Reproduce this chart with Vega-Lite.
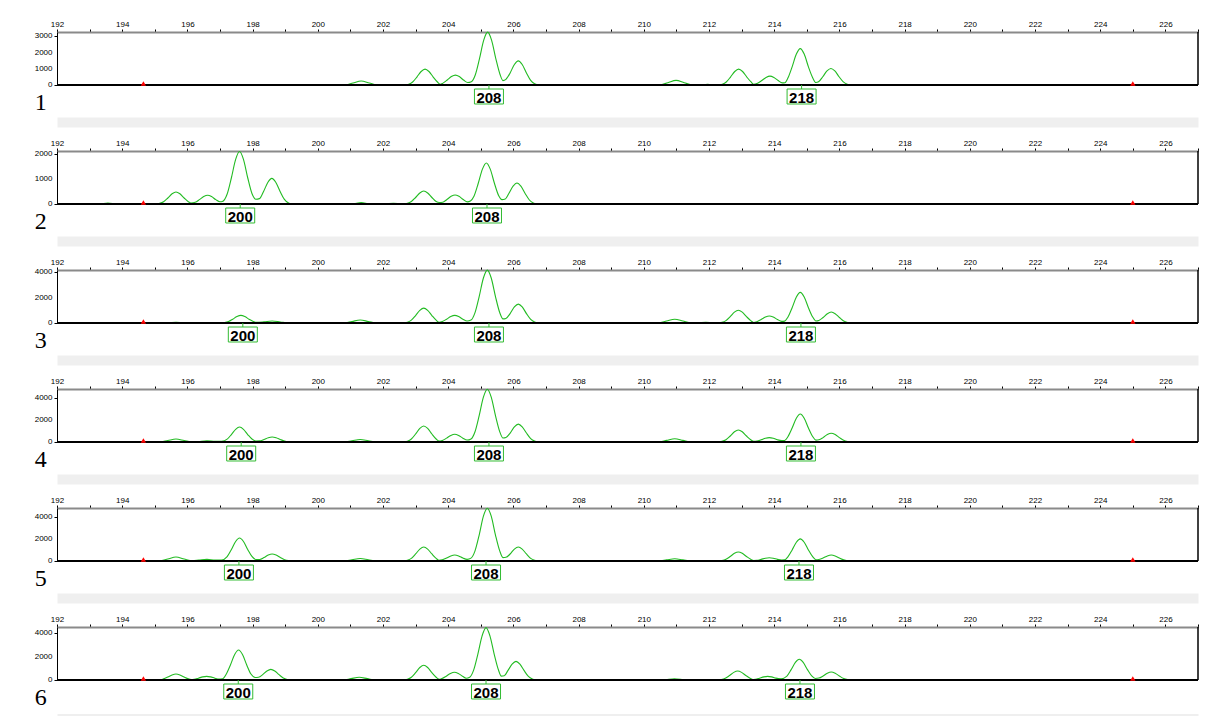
{
"$schema": "https://vega.github.io/schema/vega-lite/v6.json",
"background": "white",
"padding": {"left": 34, "top": 20, "right": 5, "bottom": 0},
"spacing": 66,
"bounds": "flush",
"config": {
 "view": {"stroke": null},
 "axis": {"labelFont": "Liberation Sans", "labelFontSize": 8, "labelColor": "#000", "tickColor": "#000", "tickSize": 3, "labelPadding": 1, "domainColor": "#000", "grid": false, "labelOverlap": false, "labelFlush": false, "labelBound": false},
 "axisTop": {"domainColor": "#8a8a8a", "domainWidth": 2}
},
"datasets": {
 "panels": [{"p":1,"n":"1"},{"p":2,"n":"2"},{"p":3,"n":"3"},{"p":4,"n":"4"},{"p":5,"n":"5"},{"p":6,"n":"6"}],
 "ylabels": [{"p":1,"v":0},{"p":1,"v":1000},{"p":1,"v":2000},{"p":1,"v":3000},{"p":2,"v":0},{"p":2,"v":1000},{"p":2,"v":2000},{"p":3,"v":0},{"p":3,"v":2000},{"p":3,"v":4000},{"p":4,"v":0},{"p":4,"v":2000},{"p":4,"v":4000},{"p":5,"v":0},{"p":5,"v":2000},{"p":5,"v":4000},{"p":6,"v":0},{"p":6,"v":2000},{"p":6,"v":4000}],
 "ladder": [{"p":1,"x":194.65},{"p":1,"x":225.0},{"p":2,"x":194.65},{"p":2,"x":225.0},{"p":3,"x":194.65},{"p":3,"x":225.0},{"p":4,"x":194.65},{"p":4,"x":225.0},{"p":5,"x":194.65},{"p":5,"x":225.0},{"p":6,"x":194.65},{"p":6,"x":225.0}],
 "alleles": [
  {"p":1,"x":205.25,"label":"208"},{"p":1,"x":214.84,"label":"218"},
  {"p":2,"x":197.62,"label":"200"},{"p":2,"x":205.19,"label":"208"},
  {"p":3,"x":197.7,"label":"200"},{"p":3,"x":205.25,"label":"208"},{"p":3,"x":214.82,"label":"218"},
  {"p":4,"x":197.65,"label":"200"},{"p":4,"x":205.25,"label":"208"},{"p":4,"x":214.82,"label":"218"},
  {"p":5,"x":197.58,"label":"200"},{"p":5,"x":205.16,"label":"208"},{"p":5,"x":214.76,"label":"218"},
  {"p":6,"x":197.56,"label":"200"},{"p":6,"x":205.16,"label":"208"},{"p":6,"x":214.79,"label":"218"}
 ],
 "trace": [
  {"p":1,"x":192,"y":0},{"p":1,"x":200.83,"y":0},{"p":1,"x":201.08,"y":125},{"p":1,"x":201.33,"y":250},{"p":1,"x":201.58,"y":125},{"p":1,"x":201.83,"y":0},
  {"p":1,"x":202.1,"y":0},{"p":1,"x":202.35,"y":30},{"p":1,"x":202.6,"y":0},
  {"p":1,"x":202.67,"y":0},{"p":1,"x":202.79,"y":49},{"p":1,"x":202.91,"y":186},{"p":1,"x":203.04,"y":490},{"p":1,"x":203.17,"y":833},{"p":1,"x":203.29,"y":980},{"p":1,"x":203.41,"y":833},{"p":1,"x":203.54,"y":490},{"p":1,"x":203.67,"y":186},{"p":1,"x":203.76,"y":40},
  {"p":1,"x":203.84,"y":116},{"p":1,"x":203.97,"y":305},{"p":1,"x":204.1,"y":519},{"p":1,"x":204.22,"y":610},{"p":1,"x":204.34,"y":519},{"p":1,"x":204.47,"y":305},{"p":1,"x":204.6,"y":150},{"p":1,"x":204.71,"y":200},
  {"p":1,"x":204.83,"y":620},{"p":1,"x":204.96,"y":1630},{"p":1,"x":205.09,"y":2770},{"p":1,"x":205.21,"y":3260},{"p":1,"x":205.33,"y":2770},{"p":1,"x":205.46,"y":1630},{"p":1,"x":205.59,"y":650},{"p":1,"x":205.68,"y":270},
  {"p":1,"x":205.77,"y":350},{"p":1,"x":205.9,"y":745},{"p":1,"x":206.03,"y":1267},{"p":1,"x":206.15,"y":1490},{"p":1,"x":206.27,"y":1267},{"p":1,"x":206.4,"y":745},{"p":1,"x":206.53,"y":283},{"p":1,"x":206.65,"y":75},{"p":1,"x":206.77,"y":0},
  {"p":1,"x":208.85,"y":0},{"p":1,"x":209.1,"y":20},{"p":1,"x":209.35,"y":0},
  {"p":1,"x":210.49,"y":0},{"p":1,"x":210.74,"y":143},{"p":1,"x":210.99,"y":285},{"p":1,"x":211.24,"y":143},{"p":1,"x":211.49,"y":0},
  {"p":1,"x":211.7,"y":0},{"p":1,"x":211.96,"y":40},{"p":1,"x":212.2,"y":0},
  {"p":1,"x":212.29,"y":0},{"p":1,"x":212.41,"y":49},{"p":1,"x":212.53,"y":186},{"p":1,"x":212.66,"y":490},{"p":1,"x":212.79,"y":833},{"p":1,"x":212.91,"y":980},{"p":1,"x":213.03,"y":833},{"p":1,"x":213.16,"y":490},{"p":1,"x":213.29,"y":186},{"p":1,"x":213.37,"y":40},
  {"p":1,"x":213.49,"y":105},{"p":1,"x":213.62,"y":275},{"p":1,"x":213.75,"y":468},{"p":1,"x":213.87,"y":550},{"p":1,"x":213.99,"y":468},{"p":1,"x":214.12,"y":275},{"p":1,"x":214.25,"y":130},{"p":1,"x":214.33,"y":140},
  {"p":1,"x":214.42,"y":427},{"p":1,"x":214.55,"y":1122},{"p":1,"x":214.68,"y":1908},{"p":1,"x":214.8,"y":2245},{"p":1,"x":214.92,"y":1908},{"p":1,"x":215.05,"y":1122},{"p":1,"x":215.18,"y":450},{"p":1,"x":215.28,"y":150},
  {"p":1,"x":215.36,"y":194},{"p":1,"x":215.49,"y":510},{"p":1,"x":215.62,"y":867},{"p":1,"x":215.74,"y":1020},{"p":1,"x":215.86,"y":867},{"p":1,"x":215.99,"y":510},{"p":1,"x":216.12,"y":194},{"p":1,"x":216.24,"y":51},{"p":1,"x":216.36,"y":0},{"p":1,"x":227,"y":0},

  {"p":2,"x":192,"y":0},{"p":2,"x":193.3,"y":0},{"p":2,"x":193.56,"y":40},{"p":2,"x":193.85,"y":0},
  {"p":2,"x":195.03,"y":0},{"p":2,"x":195.15,"y":24},{"p":2,"x":195.27,"y":91},{"p":2,"x":195.4,"y":240},{"p":2,"x":195.53,"y":408},{"p":2,"x":195.65,"y":480},{"p":2,"x":195.77,"y":408},{"p":2,"x":195.9,"y":240},{"p":2,"x":196.03,"y":91},{"p":2,"x":196.11,"y":40},
  {"p":2,"x":196.24,"y":67},{"p":2,"x":196.37,"y":175},{"p":2,"x":196.5,"y":298},{"p":2,"x":196.62,"y":350},{"p":2,"x":196.74,"y":298},{"p":2,"x":196.87,"y":175},{"p":2,"x":197.0,"y":90},{"p":2,"x":197.07,"y":100},
  {"p":2,"x":197.22,"y":400},{"p":2,"x":197.35,"y":1050},{"p":2,"x":197.48,"y":1785},{"p":2,"x":197.6,"y":2100},{"p":2,"x":197.72,"y":1785},{"p":2,"x":197.85,"y":1050},{"p":2,"x":197.98,"y":420},{"p":2,"x":198.1,"y":190},
  {"p":2,"x":198.21,"y":215},{"p":2,"x":198.34,"y":513},{"p":2,"x":198.47,"y":871},{"p":2,"x":198.59,"y":1025},{"p":2,"x":198.71,"y":871},{"p":2,"x":198.84,"y":513},{"p":2,"x":198.97,"y":195},{"p":2,"x":199.09,"y":51},{"p":2,"x":199.21,"y":0},
  {"p":2,"x":201.05,"y":0},{"p":2,"x":201.33,"y":60},{"p":2,"x":201.6,"y":0},{"p":2,"x":202.05,"y":0},{"p":2,"x":202.32,"y":30},{"p":2,"x":202.58,"y":0},
  {"p":2,"x":202.63,"y":0},{"p":2,"x":202.75,"y":26},{"p":2,"x":202.87,"y":99},{"p":2,"x":203.0,"y":260},{"p":2,"x":203.13,"y":442},{"p":2,"x":203.25,"y":520},{"p":2,"x":203.37,"y":442},{"p":2,"x":203.5,"y":260},{"p":2,"x":203.63,"y":99},{"p":2,"x":203.73,"y":60},
  {"p":2,"x":203.83,"y":68},{"p":2,"x":203.96,"y":180},{"p":2,"x":204.09,"y":306},{"p":2,"x":204.21,"y":360},{"p":2,"x":204.33,"y":306},{"p":2,"x":204.46,"y":180},{"p":2,"x":204.59,"y":85},{"p":2,"x":204.68,"y":120},
  {"p":2,"x":204.79,"y":312},{"p":2,"x":204.92,"y":820},{"p":2,"x":205.05,"y":1394},{"p":2,"x":205.17,"y":1640},{"p":2,"x":205.29,"y":1394},{"p":2,"x":205.42,"y":820},{"p":2,"x":205.55,"y":330},{"p":2,"x":205.65,"y":175},
  {"p":2,"x":205.75,"y":200},{"p":2,"x":205.86,"y":420},{"p":2,"x":205.99,"y":714},{"p":2,"x":206.11,"y":840},{"p":2,"x":206.23,"y":714},{"p":2,"x":206.36,"y":420},{"p":2,"x":206.49,"y":160},{"p":2,"x":206.61,"y":42},{"p":2,"x":206.73,"y":0},{"p":2,"x":227,"y":0},

  {"p":3,"x":192,"y":0},{"p":3,"x":195.4,"y":0},{"p":3,"x":195.65,"y":60},{"p":3,"x":195.9,"y":0},
  {"p":3,"x":197.02,"y":0},{"p":3,"x":197.14,"y":30},{"p":3,"x":197.26,"y":114},{"p":3,"x":197.39,"y":300},{"p":3,"x":197.52,"y":510},{"p":3,"x":197.64,"y":600},{"p":3,"x":197.76,"y":510},{"p":3,"x":197.89,"y":300},{"p":3,"x":198.02,"y":114},{"p":3,"x":198.12,"y":50},
  {"p":3,"x":198.35,"y":90},{"p":3,"x":198.6,"y":160},{"p":3,"x":198.85,"y":80},{"p":3,"x":199.1,"y":0},
  {"p":3,"x":200.8,"y":0},{"p":3,"x":201.05,"y":120},{"p":3,"x":201.3,"y":240},{"p":3,"x":201.55,"y":120},{"p":3,"x":201.8,"y":0},
  {"p":3,"x":202.1,"y":0},{"p":3,"x":202.35,"y":40},{"p":3,"x":202.6,"y":0},
  {"p":3,"x":202.75,"y":58},{"p":3,"x":202.87,"y":222},{"p":3,"x":203.0,"y":585},{"p":3,"x":203.13,"y":995},{"p":3,"x":203.25,"y":1170},{"p":3,"x":203.37,"y":995},{"p":3,"x":203.5,"y":585},{"p":3,"x":203.63,"y":222},{"p":3,"x":203.72,"y":60},
  {"p":3,"x":203.82,"y":114},{"p":3,"x":203.95,"y":300},{"p":3,"x":204.08,"y":510},{"p":3,"x":204.2,"y":600},{"p":3,"x":204.32,"y":510},{"p":3,"x":204.45,"y":300},{"p":3,"x":204.58,"y":155},{"p":3,"x":204.7,"y":230},
  {"p":3,"x":204.82,"y":790},{"p":3,"x":204.95,"y":2075},{"p":3,"x":205.08,"y":3530},{"p":3,"x":205.2,"y":4150},{"p":3,"x":205.32,"y":3530},{"p":3,"x":205.45,"y":2075},{"p":3,"x":205.58,"y":820},{"p":3,"x":205.68,"y":320},
  {"p":3,"x":205.77,"y":360},{"p":3,"x":205.9,"y":740},{"p":3,"x":206.03,"y":1258},{"p":3,"x":206.15,"y":1480},{"p":3,"x":206.27,"y":1258},{"p":3,"x":206.4,"y":740},{"p":3,"x":206.53,"y":281},{"p":3,"x":206.65,"y":74},{"p":3,"x":206.77,"y":0},
  {"p":3,"x":206.85,"y":0},{"p":3,"x":207.1,"y":30},{"p":3,"x":207.35,"y":0},
  {"p":3,"x":210.45,"y":0},{"p":3,"x":210.7,"y":150},{"p":3,"x":210.95,"y":300},{"p":3,"x":211.2,"y":150},{"p":3,"x":211.45,"y":0},
  {"p":3,"x":211.65,"y":0},{"p":3,"x":211.9,"y":60},{"p":3,"x":212.15,"y":0},
  {"p":3,"x":212.28,"y":0},{"p":3,"x":212.4,"y":50},{"p":3,"x":212.52,"y":190},{"p":3,"x":212.65,"y":500},{"p":3,"x":212.78,"y":850},{"p":3,"x":212.9,"y":1000},{"p":3,"x":213.02,"y":850},{"p":3,"x":213.15,"y":500},{"p":3,"x":213.28,"y":190},{"p":3,"x":213.37,"y":40},
  {"p":3,"x":213.47,"y":105},{"p":3,"x":213.6,"y":275},{"p":3,"x":213.73,"y":468},{"p":3,"x":213.85,"y":550},{"p":3,"x":213.97,"y":468},{"p":3,"x":214.1,"y":275},{"p":3,"x":214.23,"y":130},{"p":3,"x":214.32,"y":150},
  {"p":3,"x":214.42,"y":456},{"p":3,"x":214.55,"y":1200},{"p":3,"x":214.68,"y":2040},{"p":3,"x":214.8,"y":2400},{"p":3,"x":214.92,"y":2040},{"p":3,"x":215.05,"y":1200},{"p":3,"x":215.18,"y":470},{"p":3,"x":215.28,"y":160},
  {"p":3,"x":215.37,"y":200},{"p":3,"x":215.5,"y":430},{"p":3,"x":215.63,"y":731},{"p":3,"x":215.75,"y":860},{"p":3,"x":215.87,"y":731},{"p":3,"x":216.0,"y":430},{"p":3,"x":216.13,"y":163},{"p":3,"x":216.25,"y":43},{"p":3,"x":216.37,"y":0},
  {"p":3,"x":224.0,"y":0},{"p":3,"x":224.3,"y":40},{"p":3,"x":224.6,"y":0},{"p":3,"x":227,"y":0},

  {"p":4,"x":192,"y":0},{"p":4,"x":195.15,"y":0},{"p":4,"x":195.4,"y":135},{"p":4,"x":195.65,"y":270},{"p":4,"x":195.9,"y":135},{"p":4,"x":196.15,"y":0},
  {"p":4,"x":196.35,"y":45},{"p":4,"x":196.6,"y":100},{"p":4,"x":196.85,"y":55},{"p":4,"x":197.05,"y":65},
  {"p":4,"x":197.22,"y":258},{"p":4,"x":197.35,"y":680},{"p":4,"x":197.48,"y":1156},{"p":4,"x":197.6,"y":1360},{"p":4,"x":197.72,"y":1156},{"p":4,"x":197.85,"y":680},{"p":4,"x":197.98,"y":270},{"p":4,"x":198.1,"y":90},
  {"p":4,"x":198.22,"y":100},{"p":4,"x":198.35,"y":225},{"p":4,"x":198.48,"y":383},{"p":4,"x":198.6,"y":450},{"p":4,"x":198.72,"y":383},{"p":4,"x":198.85,"y":225},{"p":4,"x":198.98,"y":86},{"p":4,"x":199.1,"y":22},{"p":4,"x":199.22,"y":0},
  {"p":4,"x":200.8,"y":0},{"p":4,"x":201.05,"y":115},{"p":4,"x":201.3,"y":230},{"p":4,"x":201.55,"y":115},{"p":4,"x":201.8,"y":0},
  {"p":4,"x":202.05,"y":0},{"p":4,"x":202.3,"y":40},{"p":4,"x":202.55,"y":0},
  {"p":4,"x":202.63,"y":0},{"p":4,"x":202.75,"y":72},{"p":4,"x":202.87,"y":275},{"p":4,"x":203.0,"y":725},{"p":4,"x":203.13,"y":1233},{"p":4,"x":203.25,"y":1450},{"p":4,"x":203.37,"y":1233},{"p":4,"x":203.5,"y":725},{"p":4,"x":203.63,"y":275},{"p":4,"x":203.72,"y":80},
  {"p":4,"x":203.82,"y":133},{"p":4,"x":203.95,"y":350},{"p":4,"x":204.08,"y":595},{"p":4,"x":204.2,"y":700},{"p":4,"x":204.32,"y":595},{"p":4,"x":204.45,"y":350},{"p":4,"x":204.58,"y":180},{"p":4,"x":204.7,"y":280},
  {"p":4,"x":204.82,"y":912},{"p":4,"x":204.95,"y":2400},{"p":4,"x":205.08,"y":4080},{"p":4,"x":205.2,"y":4800},{"p":4,"x":205.32,"y":4080},{"p":4,"x":205.45,"y":2400},{"p":4,"x":205.58,"y":945},{"p":4,"x":205.68,"y":360},
  {"p":4,"x":205.77,"y":405},{"p":4,"x":205.9,"y":815},{"p":4,"x":206.03,"y":1386},{"p":4,"x":206.15,"y":1630},{"p":4,"x":206.27,"y":1386},{"p":4,"x":206.4,"y":815},{"p":4,"x":206.53,"y":310},{"p":4,"x":206.65,"y":82},{"p":4,"x":206.77,"y":0},
  {"p":4,"x":206.85,"y":0},{"p":4,"x":207.05,"y":30},{"p":4,"x":207.3,"y":0},
  {"p":4,"x":210.45,"y":0},{"p":4,"x":210.7,"y":150},{"p":4,"x":210.95,"y":300},{"p":4,"x":211.2,"y":150},{"p":4,"x":211.45,"y":0},
  {"p":4,"x":211.65,"y":0},{"p":4,"x":211.9,"y":50},{"p":4,"x":212.15,"y":0},
  {"p":4,"x":212.28,"y":0},{"p":4,"x":212.4,"y":55},{"p":4,"x":212.52,"y":207},{"p":4,"x":212.65,"y":545},{"p":4,"x":212.78,"y":927},{"p":4,"x":212.9,"y":1090},{"p":4,"x":213.02,"y":927},{"p":4,"x":213.15,"y":545},{"p":4,"x":213.28,"y":207},{"p":4,"x":213.37,"y":60},
  {"p":4,"x":213.47,"y":76},{"p":4,"x":213.6,"y":200},{"p":4,"x":213.73,"y":340},{"p":4,"x":213.85,"y":400},{"p":4,"x":213.97,"y":340},{"p":4,"x":214.1,"y":200},{"p":4,"x":214.23,"y":127},{"p":4,"x":214.32,"y":140},
  {"p":4,"x":214.42,"y":483},{"p":4,"x":214.55,"y":1270},{"p":4,"x":214.68,"y":2160},{"p":4,"x":214.8,"y":2540},{"p":4,"x":214.92,"y":2160},{"p":4,"x":215.05,"y":1270},{"p":4,"x":215.18,"y":500},{"p":4,"x":215.28,"y":170},
  {"p":4,"x":215.37,"y":200},{"p":4,"x":215.5,"y":400},{"p":4,"x":215.63,"y":680},{"p":4,"x":215.75,"y":800},{"p":4,"x":215.87,"y":680},{"p":4,"x":216.0,"y":400},{"p":4,"x":216.13,"y":152},{"p":4,"x":216.25,"y":40},{"p":4,"x":216.37,"y":0},{"p":4,"x":227,"y":0},

  {"p":5,"x":192,"y":0},{"p":5,"x":195.15,"y":0},{"p":5,"x":195.4,"y":180},{"p":5,"x":195.65,"y":360},{"p":5,"x":195.9,"y":180},{"p":5,"x":196.15,"y":20},
  {"p":5,"x":196.35,"y":75},{"p":5,"x":196.6,"y":150},{"p":5,"x":196.85,"y":80},{"p":5,"x":197.05,"y":90},
  {"p":5,"x":197.22,"y":395},{"p":5,"x":197.35,"y":1040},{"p":5,"x":197.48,"y":1768},{"p":5,"x":197.6,"y":2080},{"p":5,"x":197.72,"y":1768},{"p":5,"x":197.85,"y":1040},{"p":5,"x":197.98,"y":410},{"p":5,"x":198.1,"y":130},
  {"p":5,"x":198.22,"y":140},{"p":5,"x":198.35,"y":315},{"p":5,"x":198.48,"y":535},{"p":5,"x":198.6,"y":630},{"p":5,"x":198.72,"y":535},{"p":5,"x":198.85,"y":315},{"p":5,"x":198.98,"y":120},{"p":5,"x":199.1,"y":32},{"p":5,"x":199.22,"y":0},
  {"p":5,"x":200.8,"y":0},{"p":5,"x":201.05,"y":115},{"p":5,"x":201.3,"y":230},{"p":5,"x":201.55,"y":115},{"p":5,"x":201.8,"y":0},
  {"p":5,"x":202.05,"y":0},{"p":5,"x":202.3,"y":40},{"p":5,"x":202.55,"y":0},
  {"p":5,"x":202.63,"y":0},{"p":5,"x":202.75,"y":64},{"p":5,"x":202.87,"y":241},{"p":5,"x":203.0,"y":635},{"p":5,"x":203.13,"y":1080},{"p":5,"x":203.25,"y":1270},{"p":5,"x":203.37,"y":1080},{"p":5,"x":203.5,"y":635},{"p":5,"x":203.63,"y":241},{"p":5,"x":203.72,"y":60},
  {"p":5,"x":203.82,"y":103},{"p":5,"x":203.95,"y":270},{"p":5,"x":204.08,"y":460},{"p":5,"x":204.2,"y":540},{"p":5,"x":204.32,"y":460},{"p":5,"x":204.45,"y":270},{"p":5,"x":204.58,"y":150},{"p":5,"x":204.7,"y":260},
  {"p":5,"x":204.82,"y":893},{"p":5,"x":204.95,"y":2350},{"p":5,"x":205.08,"y":4060},{"p":5,"x":205.2,"y":4780},{"p":5,"x":205.32,"y":4060},{"p":5,"x":205.45,"y":2350},{"p":5,"x":205.58,"y":920},{"p":5,"x":205.68,"y":310},
  {"p":5,"x":205.77,"y":335},{"p":5,"x":205.9,"y":635},{"p":5,"x":206.03,"y":1080},{"p":5,"x":206.15,"y":1270},{"p":5,"x":206.27,"y":1080},{"p":5,"x":206.4,"y":635},{"p":5,"x":206.53,"y":241},{"p":5,"x":206.65,"y":64},{"p":5,"x":206.77,"y":0},
  {"p":5,"x":206.85,"y":0},{"p":5,"x":207.05,"y":30},{"p":5,"x":207.3,"y":0},
  {"p":5,"x":210.45,"y":0},{"p":5,"x":210.7,"y":100},{"p":5,"x":210.95,"y":200},{"p":5,"x":211.2,"y":100},{"p":5,"x":211.45,"y":0},
  {"p":5,"x":211.65,"y":0},{"p":5,"x":211.9,"y":40},{"p":5,"x":212.15,"y":0},
  {"p":5,"x":212.28,"y":0},{"p":5,"x":212.4,"y":41},{"p":5,"x":212.52,"y":155},{"p":5,"x":212.65,"y":408},{"p":5,"x":212.78,"y":693},{"p":5,"x":212.9,"y":815},{"p":5,"x":213.02,"y":693},{"p":5,"x":213.15,"y":408},{"p":5,"x":213.28,"y":155},{"p":5,"x":213.37,"y":50},
  {"p":5,"x":213.47,"y":57},{"p":5,"x":213.6,"y":150},{"p":5,"x":213.73,"y":255},{"p":5,"x":213.85,"y":300},{"p":5,"x":213.97,"y":255},{"p":5,"x":214.1,"y":150},{"p":5,"x":214.23,"y":97},{"p":5,"x":214.32,"y":110},
  {"p":5,"x":214.42,"y":380},{"p":5,"x":214.55,"y":1000},{"p":5,"x":214.68,"y":1700},{"p":5,"x":214.8,"y":2000},{"p":5,"x":214.92,"y":1700},{"p":5,"x":215.05,"y":1000},{"p":5,"x":215.18,"y":390},{"p":5,"x":215.28,"y":120},
  {"p":5,"x":215.37,"y":143},{"p":5,"x":215.5,"y":270},{"p":5,"x":215.63,"y":459},{"p":5,"x":215.75,"y":540},{"p":5,"x":215.87,"y":459},{"p":5,"x":216.0,"y":270},{"p":5,"x":216.13,"y":103},{"p":5,"x":216.25,"y":27},{"p":5,"x":216.37,"y":0},{"p":5,"x":227,"y":0},

  {"p":6,"x":192,"y":0},{"p":6,"x":193.4,"y":0},{"p":6,"x":193.66,"y":20},{"p":6,"x":193.9,"y":0},
  {"p":6,"x":195.15,"y":0},{"p":6,"x":195.27,"y":98},{"p":6,"x":195.4,"y":258},{"p":6,"x":195.53,"y":438},{"p":6,"x":195.65,"y":515},{"p":6,"x":195.77,"y":438},{"p":6,"x":195.9,"y":258},{"p":6,"x":196.03,"y":98},{"p":6,"x":196.11,"y":40},
  {"p":6,"x":196.21,"y":60},{"p":6,"x":196.34,"y":158},{"p":6,"x":196.47,"y":268},{"p":6,"x":196.59,"y":315},{"p":6,"x":196.71,"y":268},{"p":6,"x":196.84,"y":158},{"p":6,"x":196.97,"y":80},{"p":6,"x":197.08,"y":110},
  {"p":6,"x":197.19,"y":500},{"p":6,"x":197.32,"y":1288},{"p":6,"x":197.45,"y":2189},{"p":6,"x":197.57,"y":2575},{"p":6,"x":197.69,"y":2189},{"p":6,"x":197.82,"y":1288},{"p":6,"x":197.95,"y":510},{"p":6,"x":198.08,"y":215},
  {"p":6,"x":198.18,"y":235},{"p":6,"x":198.31,"y":458},{"p":6,"x":198.44,"y":778},{"p":6,"x":198.56,"y":915},{"p":6,"x":198.68,"y":778},{"p":6,"x":198.81,"y":458},{"p":6,"x":198.94,"y":174},{"p":6,"x":199.06,"y":46},{"p":6,"x":199.18,"y":0},
  {"p":6,"x":200.77,"y":0},{"p":6,"x":201.02,"y":115},{"p":6,"x":201.27,"y":230},{"p":6,"x":201.52,"y":115},{"p":6,"x":201.77,"y":0},
  {"p":6,"x":202.0,"y":0},{"p":6,"x":202.25,"y":30},{"p":6,"x":202.5,"y":0},
  {"p":6,"x":202.63,"y":0},{"p":6,"x":202.75,"y":63},{"p":6,"x":202.87,"y":239},{"p":6,"x":203.0,"y":630},{"p":6,"x":203.13,"y":1071},{"p":6,"x":203.25,"y":1260},{"p":6,"x":203.37,"y":1071},{"p":6,"x":203.5,"y":630},{"p":6,"x":203.63,"y":239},{"p":6,"x":203.73,"y":50},
  {"p":6,"x":203.81,"y":125},{"p":6,"x":203.94,"y":330},{"p":6,"x":204.07,"y":561},{"p":6,"x":204.19,"y":660},{"p":6,"x":204.31,"y":561},{"p":6,"x":204.44,"y":330},{"p":6,"x":204.55,"y":150},
  {"p":6,"x":204.66,"y":240},{"p":6,"x":204.78,"y":847},{"p":6,"x":204.91,"y":2230},{"p":6,"x":205.04,"y":3790},{"p":6,"x":205.16,"y":4500},{"p":6,"x":205.28,"y":3790},{"p":6,"x":205.41,"y":2230},{"p":6,"x":205.54,"y":880},{"p":6,"x":205.63,"y":330},
  {"p":6,"x":205.72,"y":360},{"p":6,"x":205.83,"y":800},{"p":6,"x":205.96,"y":1360},{"p":6,"x":206.08,"y":1600},{"p":6,"x":206.2,"y":1360},{"p":6,"x":206.33,"y":800},{"p":6,"x":206.46,"y":304},{"p":6,"x":206.58,"y":80},{"p":6,"x":206.7,"y":0},
  {"p":6,"x":206.8,"y":0},{"p":6,"x":207.03,"y":20},{"p":6,"x":207.25,"y":0},
  {"p":6,"x":210.6,"y":0},{"p":6,"x":210.94,"y":110},{"p":6,"x":211.3,"y":0},
  {"p":6,"x":211.6,"y":0},{"p":6,"x":211.86,"y":30},{"p":6,"x":212.1,"y":0},
  {"p":6,"x":212.26,"y":0},{"p":6,"x":212.38,"y":38},{"p":6,"x":212.5,"y":146},{"p":6,"x":212.63,"y":385},{"p":6,"x":212.76,"y":655},{"p":6,"x":212.88,"y":770},{"p":6,"x":213.0,"y":655},{"p":6,"x":213.13,"y":385},{"p":6,"x":213.26,"y":146},{"p":6,"x":213.35,"y":25},
  {"p":6,"x":213.43,"y":60},{"p":6,"x":213.55,"y":158},{"p":6,"x":213.68,"y":268},{"p":6,"x":213.8,"y":315},{"p":6,"x":213.92,"y":268},{"p":6,"x":214.05,"y":158},{"p":6,"x":214.21,"y":110},
  {"p":6,"x":214.39,"y":340},{"p":6,"x":214.52,"y":888},{"p":6,"x":214.65,"y":1509},{"p":6,"x":214.77,"y":1775},{"p":6,"x":214.89,"y":1509},{"p":6,"x":215.02,"y":888},{"p":6,"x":215.15,"y":350},{"p":6,"x":215.26,"y":130},
  {"p":6,"x":215.37,"y":165},{"p":6,"x":215.5,"y":345},{"p":6,"x":215.63,"y":587},{"p":6,"x":215.75,"y":690},{"p":6,"x":215.87,"y":587},{"p":6,"x":216.0,"y":345},{"p":6,"x":216.13,"y":131},{"p":6,"x":216.25,"y":35},{"p":6,"x":216.37,"y":0},{"p":6,"x":227,"y":0}
 ]
},
"vconcat": [
 {"width": 1141, "height": 53, "resolve": {"axis": {"x": "independent"}},
  "layer": [
   {"data": {"name": "trace"}, "transform": [{"filter": "datum.p == 1"}], "mark": {"type": "line", "interpolate": "monotone", "color": "#22bb22", "strokeWidth": 1.1},
    "encoding": {
     "x": {"field": "x", "type": "quantitative", "scale": {"domain": [192, 227], "nice": false, "zero": false}, "axis": {"orient": "top", "title": null, "labelOverlap": false, "values": [192,193,194,195,196,197,198,199,200,201,202,203,204,205,206,207,208,209,210,211,212,213,214,215,216,217,218,219,220,221,222,223,224,225,226,227], "labelExpr": "datum.value % 2 == 0 && datum.value < 227 ? datum.label : ''"}},
     "y": {"field": "y", "type": "quantitative", "scale": {"domain": [0, 3270], "nice": false}, "axis": {"orient": "left", "title": null, "labels": false, "values": [0,500,1000,1500,2000,2500,3000]}}
    }},
   {"data": {"name": "panels"}, "transform": [{"filter": "datum.p == 1"}], "mark": {"type": "rule", "color": "#000", "strokeWidth": 2}, "encoding": {"y": {"datum": 0}}},
   {"data": {"name": "ylabels"}, "transform": [{"filter": "datum.p == 1"}], "mark": {"type": "text", "font": "Liberation Sans", "fontSize": 8, "color": "#000", "align": "right", "baseline": "middle", "dx": -4.5},
    "encoding": {"x": {"datum": 192, "axis": null}, "y": {"field": "v", "type": "quantitative"}, "text": {"field": "v", "type": "quantitative", "format": "d"}}},
   {"data": {"name": "panels"}, "transform": [{"filter": "datum.p == 1"}], "mark": {"type": "rule", "color": "#000", "strokeWidth": 1.5}, "encoding": {"x": {"datum": 227, "axis": null}}},
   {"data": {"name": "ladder"}, "transform": [{"filter": "datum.p == 1"}], "mark": {"type": "point", "shape": "triangle-up", "size": 28, "filled": true, "color": "#ff0000", "opacity": 1, "yOffset": -1.5},
    "encoding": {"x": {"field": "x", "type": "quantitative", "axis": {"orient": "bottom", "offset": 37, "domainWidth": 10, "domainColor": "#efefef", "ticks": false, "labels": false, "title": null}}, "y": {"datum": 0}}},
   {"data": {"name": "alleles"}, "transform": [{"filter": "datum.p == 1"}], "mark": {"type": "point", "shape": "M0,-0.793V-0.517M-1,-0.517H1V0.517H-1Z", "size": 841, "filled": true, "fill": "white", "stroke": "#33bb33", "strokeWidth": 1, "opacity": 1, "yOffset": 11.5},
    "encoding": {"x": {"field": "x", "type": "quantitative", "axis": null}, "y": {"datum": 0}}},
   {"data": {"name": "alleles"}, "transform": [{"filter": "datum.p == 1"}], "mark": {"type": "text", "font": "Liberation Sans", "fontWeight": "bold", "fontSize": 15, "color": "#000", "baseline": "middle", "align": "center", "yOffset": 12.5},
    "encoding": {"x": {"field": "x", "type": "quantitative", "axis": null}, "y": {"datum": 0}, "text": {"field": "label"}}},
   {"data": {"name": "panels"}, "transform": [{"filter": "datum.p == 1"}], "mark": {"type": "text", "font": "Liberation Serif", "fontSize": 24, "color": "#000", "baseline": "alphabetic", "align": "center", "yOffset": 25},
    "encoding": {"x": {"datum": 191.5, "axis": null}, "y": {"datum": 0}, "text": {"field": "n"}}}
  ]},
 {"width": 1141, "height": 53, "resolve": {"axis": {"x": "independent"}},
  "layer": [
   {"data": {"name": "trace"}, "transform": [{"filter": "datum.p == 2"}], "mark": {"type": "line", "interpolate": "monotone", "color": "#22bb22", "strokeWidth": 1.1},
    "encoding": {
     "x": {"field": "x", "type": "quantitative", "scale": {"domain": [192, 227], "nice": false, "zero": false}, "axis": {"orient": "top", "title": null, "labelOverlap": false, "values": [192,193,194,195,196,197,198,199,200,201,202,203,204,205,206,207,208,209,210,211,212,213,214,215,216,217,218,219,220,221,222,223,224,225,226,227], "labelExpr": "datum.value % 2 == 0 && datum.value < 227 ? datum.label : ''"}},
     "y": {"field": "y", "type": "quantitative", "scale": {"domain": [0, 2120], "nice": false}, "axis": {"orient": "left", "title": null, "labels": false, "values": [0,500,1000,1500,2000]}}
    }},
   {"data": {"name": "panels"}, "transform": [{"filter": "datum.p == 2"}], "mark": {"type": "rule", "color": "#000", "strokeWidth": 2}, "encoding": {"y": {"datum": 0}}},
   {"data": {"name": "ylabels"}, "transform": [{"filter": "datum.p == 2"}], "mark": {"type": "text", "font": "Liberation Sans", "fontSize": 8, "color": "#000", "align": "right", "baseline": "middle", "dx": -4.5},
    "encoding": {"x": {"datum": 192, "axis": null}, "y": {"field": "v", "type": "quantitative"}, "text": {"field": "v", "type": "quantitative", "format": "d"}}},
   {"data": {"name": "panels"}, "transform": [{"filter": "datum.p == 2"}], "mark": {"type": "rule", "color": "#000", "strokeWidth": 1.5}, "encoding": {"x": {"datum": 227, "axis": null}}},
   {"data": {"name": "ladder"}, "transform": [{"filter": "datum.p == 2"}], "mark": {"type": "point", "shape": "triangle-up", "size": 28, "filled": true, "color": "#ff0000", "opacity": 1, "yOffset": -1.5},
    "encoding": {"x": {"field": "x", "type": "quantitative", "axis": {"orient": "bottom", "offset": 37, "domainWidth": 10, "domainColor": "#efefef", "ticks": false, "labels": false, "title": null}}, "y": {"datum": 0}}},
   {"data": {"name": "alleles"}, "transform": [{"filter": "datum.p == 2"}], "mark": {"type": "point", "shape": "M0,-0.793V-0.517M-1,-0.517H1V0.517H-1Z", "size": 841, "filled": true, "fill": "white", "stroke": "#33bb33", "strokeWidth": 1, "opacity": 1, "yOffset": 11.5},
    "encoding": {"x": {"field": "x", "type": "quantitative", "axis": null}, "y": {"datum": 0}}},
   {"data": {"name": "alleles"}, "transform": [{"filter": "datum.p == 2"}], "mark": {"type": "text", "font": "Liberation Sans", "fontWeight": "bold", "fontSize": 15, "color": "#000", "baseline": "middle", "align": "center", "yOffset": 12.5},
    "encoding": {"x": {"field": "x", "type": "quantitative", "axis": null}, "y": {"datum": 0}, "text": {"field": "label"}}},
   {"data": {"name": "panels"}, "transform": [{"filter": "datum.p == 2"}], "mark": {"type": "text", "font": "Liberation Serif", "fontSize": 24, "color": "#000", "baseline": "alphabetic", "align": "center", "yOffset": 25},
    "encoding": {"x": {"datum": 191.5, "axis": null}, "y": {"datum": 0}, "text": {"field": "n"}}}
  ]},
 {"width": 1141, "height": 53, "resolve": {"axis": {"x": "independent"}},
  "layer": [
   {"data": {"name": "trace"}, "transform": [{"filter": "datum.p == 3"}], "mark": {"type": "line", "interpolate": "monotone", "color": "#22bb22", "strokeWidth": 1.1},
    "encoding": {
     "x": {"field": "x", "type": "quantitative", "scale": {"domain": [192, 227], "nice": false, "zero": false}, "axis": {"orient": "top", "title": null, "labelOverlap": false, "values": [192,193,194,195,196,197,198,199,200,201,202,203,204,205,206,207,208,209,210,211,212,213,214,215,216,217,218,219,220,221,222,223,224,225,226,227], "labelExpr": "datum.value % 2 == 0 && datum.value < 227 ? datum.label : ''"}},
     "y": {"field": "y", "type": "quantitative", "scale": {"domain": [0, 4160], "nice": false}, "axis": {"orient": "left", "title": null, "labels": false, "values": [0,1000,2000,3000,4000]}}
    }},
   {"data": {"name": "panels"}, "transform": [{"filter": "datum.p == 3"}], "mark": {"type": "rule", "color": "#000", "strokeWidth": 2}, "encoding": {"y": {"datum": 0}}},
   {"data": {"name": "ylabels"}, "transform": [{"filter": "datum.p == 3"}], "mark": {"type": "text", "font": "Liberation Sans", "fontSize": 8, "color": "#000", "align": "right", "baseline": "middle", "dx": -4.5},
    "encoding": {"x": {"datum": 192, "axis": null}, "y": {"field": "v", "type": "quantitative"}, "text": {"field": "v", "type": "quantitative", "format": "d"}}},
   {"data": {"name": "panels"}, "transform": [{"filter": "datum.p == 3"}], "mark": {"type": "rule", "color": "#000", "strokeWidth": 1.5}, "encoding": {"x": {"datum": 227, "axis": null}}},
   {"data": {"name": "ladder"}, "transform": [{"filter": "datum.p == 3"}], "mark": {"type": "point", "shape": "triangle-up", "size": 28, "filled": true, "color": "#ff0000", "opacity": 1, "yOffset": -1.5},
    "encoding": {"x": {"field": "x", "type": "quantitative", "axis": {"orient": "bottom", "offset": 37, "domainWidth": 10, "domainColor": "#efefef", "ticks": false, "labels": false, "title": null}}, "y": {"datum": 0}}},
   {"data": {"name": "alleles"}, "transform": [{"filter": "datum.p == 3"}], "mark": {"type": "point", "shape": "M0,-0.793V-0.517M-1,-0.517H1V0.517H-1Z", "size": 841, "filled": true, "fill": "white", "stroke": "#33bb33", "strokeWidth": 1, "opacity": 1, "yOffset": 11.5},
    "encoding": {"x": {"field": "x", "type": "quantitative", "axis": null}, "y": {"datum": 0}}},
   {"data": {"name": "alleles"}, "transform": [{"filter": "datum.p == 3"}], "mark": {"type": "text", "font": "Liberation Sans", "fontWeight": "bold", "fontSize": 15, "color": "#000", "baseline": "middle", "align": "center", "yOffset": 12.5},
    "encoding": {"x": {"field": "x", "type": "quantitative", "axis": null}, "y": {"datum": 0}, "text": {"field": "label"}}},
   {"data": {"name": "panels"}, "transform": [{"filter": "datum.p == 3"}], "mark": {"type": "text", "font": "Liberation Serif", "fontSize": 24, "color": "#000", "baseline": "alphabetic", "align": "center", "yOffset": 25},
    "encoding": {"x": {"datum": 191.5, "axis": null}, "y": {"datum": 0}, "text": {"field": "n"}}}
  ]},
 {"width": 1141, "height": 53, "resolve": {"axis": {"x": "independent"}},
  "layer": [
   {"data": {"name": "trace"}, "transform": [{"filter": "datum.p == 4"}], "mark": {"type": "line", "interpolate": "monotone", "color": "#22bb22", "strokeWidth": 1.1},
    "encoding": {
     "x": {"field": "x", "type": "quantitative", "scale": {"domain": [192, 227], "nice": false, "zero": false}, "axis": {"orient": "top", "title": null, "labelOverlap": false, "values": [192,193,194,195,196,197,198,199,200,201,202,203,204,205,206,207,208,209,210,211,212,213,214,215,216,217,218,219,220,221,222,223,224,225,226,227], "labelExpr": "datum.value % 2 == 0 && datum.value < 227 ? datum.label : ''"}},
     "y": {"field": "y", "type": "quantitative", "scale": {"domain": [0, 4820], "nice": false}, "axis": {"orient": "left", "title": null, "labels": false, "values": [0,1000,2000,3000,4000]}}
    }},
   {"data": {"name": "panels"}, "transform": [{"filter": "datum.p == 4"}], "mark": {"type": "rule", "color": "#000", "strokeWidth": 2}, "encoding": {"y": {"datum": 0}}},
   {"data": {"name": "ylabels"}, "transform": [{"filter": "datum.p == 4"}], "mark": {"type": "text", "font": "Liberation Sans", "fontSize": 8, "color": "#000", "align": "right", "baseline": "middle", "dx": -4.5},
    "encoding": {"x": {"datum": 192, "axis": null}, "y": {"field": "v", "type": "quantitative"}, "text": {"field": "v", "type": "quantitative", "format": "d"}}},
   {"data": {"name": "panels"}, "transform": [{"filter": "datum.p == 4"}], "mark": {"type": "rule", "color": "#000", "strokeWidth": 1.5}, "encoding": {"x": {"datum": 227, "axis": null}}},
   {"data": {"name": "ladder"}, "transform": [{"filter": "datum.p == 4"}], "mark": {"type": "point", "shape": "triangle-up", "size": 28, "filled": true, "color": "#ff0000", "opacity": 1, "yOffset": -1.5},
    "encoding": {"x": {"field": "x", "type": "quantitative", "axis": {"orient": "bottom", "offset": 37, "domainWidth": 10, "domainColor": "#efefef", "ticks": false, "labels": false, "title": null}}, "y": {"datum": 0}}},
   {"data": {"name": "alleles"}, "transform": [{"filter": "datum.p == 4"}], "mark": {"type": "point", "shape": "M0,-0.793V-0.517M-1,-0.517H1V0.517H-1Z", "size": 841, "filled": true, "fill": "white", "stroke": "#33bb33", "strokeWidth": 1, "opacity": 1, "yOffset": 11.5},
    "encoding": {"x": {"field": "x", "type": "quantitative", "axis": null}, "y": {"datum": 0}}},
   {"data": {"name": "alleles"}, "transform": [{"filter": "datum.p == 4"}], "mark": {"type": "text", "font": "Liberation Sans", "fontWeight": "bold", "fontSize": 15, "color": "#000", "baseline": "middle", "align": "center", "yOffset": 12.5},
    "encoding": {"x": {"field": "x", "type": "quantitative", "axis": null}, "y": {"datum": 0}, "text": {"field": "label"}}},
   {"data": {"name": "panels"}, "transform": [{"filter": "datum.p == 4"}], "mark": {"type": "text", "font": "Liberation Serif", "fontSize": 24, "color": "#000", "baseline": "alphabetic", "align": "center", "yOffset": 25},
    "encoding": {"x": {"datum": 191.5, "axis": null}, "y": {"datum": 0}, "text": {"field": "n"}}}
  ]},
 {"width": 1141, "height": 53, "resolve": {"axis": {"x": "independent"}},
  "layer": [
   {"data": {"name": "trace"}, "transform": [{"filter": "datum.p == 5"}], "mark": {"type": "line", "interpolate": "monotone", "color": "#22bb22", "strokeWidth": 1.1},
    "encoding": {
     "x": {"field": "x", "type": "quantitative", "scale": {"domain": [192, 227], "nice": false, "zero": false}, "axis": {"orient": "top", "title": null, "labelOverlap": false, "values": [192,193,194,195,196,197,198,199,200,201,202,203,204,205,206,207,208,209,210,211,212,213,214,215,216,217,218,219,220,221,222,223,224,225,226,227], "labelExpr": "datum.value % 2 == 0 && datum.value < 227 ? datum.label : ''"}},
     "y": {"field": "y", "type": "quantitative", "scale": {"domain": [0, 4800], "nice": false}, "axis": {"orient": "left", "title": null, "labels": false, "values": [0,1000,2000,3000,4000]}}
    }},
   {"data": {"name": "panels"}, "transform": [{"filter": "datum.p == 5"}], "mark": {"type": "rule", "color": "#000", "strokeWidth": 2}, "encoding": {"y": {"datum": 0}}},
   {"data": {"name": "ylabels"}, "transform": [{"filter": "datum.p == 5"}], "mark": {"type": "text", "font": "Liberation Sans", "fontSize": 8, "color": "#000", "align": "right", "baseline": "middle", "dx": -4.5},
    "encoding": {"x": {"datum": 192, "axis": null}, "y": {"field": "v", "type": "quantitative"}, "text": {"field": "v", "type": "quantitative", "format": "d"}}},
   {"data": {"name": "panels"}, "transform": [{"filter": "datum.p == 5"}], "mark": {"type": "rule", "color": "#000", "strokeWidth": 1.5}, "encoding": {"x": {"datum": 227, "axis": null}}},
   {"data": {"name": "ladder"}, "transform": [{"filter": "datum.p == 5"}], "mark": {"type": "point", "shape": "triangle-up", "size": 28, "filled": true, "color": "#ff0000", "opacity": 1, "yOffset": -1.5},
    "encoding": {"x": {"field": "x", "type": "quantitative", "axis": {"orient": "bottom", "offset": 37, "domainWidth": 10, "domainColor": "#efefef", "ticks": false, "labels": false, "title": null}}, "y": {"datum": 0}}},
   {"data": {"name": "alleles"}, "transform": [{"filter": "datum.p == 5"}], "mark": {"type": "point", "shape": "M0,-0.793V-0.517M-1,-0.517H1V0.517H-1Z", "size": 841, "filled": true, "fill": "white", "stroke": "#33bb33", "strokeWidth": 1, "opacity": 1, "yOffset": 11.5},
    "encoding": {"x": {"field": "x", "type": "quantitative", "axis": null}, "y": {"datum": 0}}},
   {"data": {"name": "alleles"}, "transform": [{"filter": "datum.p == 5"}], "mark": {"type": "text", "font": "Liberation Sans", "fontWeight": "bold", "fontSize": 15, "color": "#000", "baseline": "middle", "align": "center", "yOffset": 12.5},
    "encoding": {"x": {"field": "x", "type": "quantitative", "axis": null}, "y": {"datum": 0}, "text": {"field": "label"}}},
   {"data": {"name": "panels"}, "transform": [{"filter": "datum.p == 5"}], "mark": {"type": "text", "font": "Liberation Serif", "fontSize": 24, "color": "#000", "baseline": "alphabetic", "align": "center", "yOffset": 25},
    "encoding": {"x": {"datum": 191.5, "axis": null}, "y": {"datum": 0}, "text": {"field": "n"}}}
  ]},
 {"width": 1141, "height": 53, "resolve": {"axis": {"x": "independent"}},
  "layer": [
   {"data": {"name": "trace"}, "transform": [{"filter": "datum.p == 6"}], "mark": {"type": "line", "interpolate": "monotone", "color": "#22bb22", "strokeWidth": 1.1},
    "encoding": {
     "x": {"field": "x", "type": "quantitative", "scale": {"domain": [192, 227], "nice": false, "zero": false}, "axis": {"orient": "top", "title": null, "labelOverlap": false, "values": [192,193,194,195,196,197,198,199,200,201,202,203,204,205,206,207,208,209,210,211,212,213,214,215,216,217,218,219,220,221,222,223,224,225,226,227], "labelExpr": "datum.value % 2 == 0 && datum.value < 227 ? datum.label : ''"}},
     "y": {"field": "y", "type": "quantitative", "scale": {"domain": [0, 4550], "nice": false}, "axis": {"orient": "left", "title": null, "labels": false, "values": [0,1000,2000,3000,4000]}}
    }},
   {"data": {"name": "panels"}, "transform": [{"filter": "datum.p == 6"}], "mark": {"type": "rule", "color": "#000", "strokeWidth": 2}, "encoding": {"y": {"datum": 0}}},
   {"data": {"name": "ylabels"}, "transform": [{"filter": "datum.p == 6"}], "mark": {"type": "text", "font": "Liberation Sans", "fontSize": 8, "color": "#000", "align": "right", "baseline": "middle", "dx": -4.5},
    "encoding": {"x": {"datum": 192, "axis": null}, "y": {"field": "v", "type": "quantitative"}, "text": {"field": "v", "type": "quantitative", "format": "d"}}},
   {"data": {"name": "panels"}, "transform": [{"filter": "datum.p == 6"}], "mark": {"type": "rule", "color": "#000", "strokeWidth": 1.5}, "encoding": {"x": {"datum": 227, "axis": null}}},
   {"data": {"name": "ladder"}, "transform": [{"filter": "datum.p == 6"}], "mark": {"type": "point", "shape": "triangle-up", "size": 28, "filled": true, "color": "#ff0000", "opacity": 1, "yOffset": -1.5},
    "encoding": {"x": {"field": "x", "type": "quantitative", "axis": {"orient": "bottom", "offset": 36, "domainWidth": 5, "domainColor": "#efefef", "ticks": false, "labels": false, "title": null}}, "y": {"datum": 0}}},
   {"data": {"name": "alleles"}, "transform": [{"filter": "datum.p == 6"}], "mark": {"type": "point", "shape": "M0,-0.793V-0.517M-1,-0.517H1V0.517H-1Z", "size": 841, "filled": true, "fill": "white", "stroke": "#33bb33", "strokeWidth": 1, "opacity": 1, "yOffset": 11.5},
    "encoding": {"x": {"field": "x", "type": "quantitative", "axis": null}, "y": {"datum": 0}}},
   {"data": {"name": "alleles"}, "transform": [{"filter": "datum.p == 6"}], "mark": {"type": "text", "font": "Liberation Sans", "fontWeight": "bold", "fontSize": 15, "color": "#000", "baseline": "middle", "align": "center", "yOffset": 12.5},
    "encoding": {"x": {"field": "x", "type": "quantitative", "axis": null}, "y": {"datum": 0}, "text": {"field": "label"}}},
   {"data": {"name": "panels"}, "transform": [{"filter": "datum.p == 6"}], "mark": {"type": "text", "font": "Liberation Serif", "fontSize": 24, "color": "#000", "baseline": "alphabetic", "align": "center", "yOffset": 25},
    "encoding": {"x": {"datum": 191.5, "axis": null}, "y": {"datum": 0}, "text": {"field": "n"}}}
  ]}
]
}
